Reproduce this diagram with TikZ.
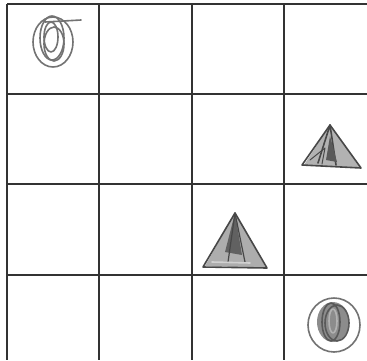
\documentclass[tikz,border=0pt]{standalone}
\usepackage{tikz}
\usetikzlibrary{calc}

\begin{document}
\begin{tikzpicture}[
    x=1pt, y=-1pt,
    gridline/.style={draw=black!80, line width=1.2pt},
    scribble/.style={draw=black!55, line width=1.6pt, line join=round, line cap=round},
    darkline/.style={scribble, draw=black!72}
]
\useasboundingbox (0,0) rectangle (367,360);
\fill[white] (0,0) rectangle (367,360);

% grid
\foreach \gx in {7, 99, 192, 284}
    \draw[gridline] (\gx, 4) -- (\gx, 360);
\foreach \gy in {4, 94, 184, 275}
    \draw[gridline] (7, \gy) -- (367, \gy);

% circle, top left
\coordinate (ringA) at (53, 42);
\draw[scribble] (ringA) ellipse [x radius=20, y radius=25];
\draw[scribble] ($(ringA)+(-1,-4)$) ellipse [x radius=12, y radius=22];
\draw[scribble] ($(ringA)+(-2,-5)$) ellipse [x radius=7, y radius=15];
\draw[scribble] ($(ringA)+(1,2)$) ellipse [x radius=10, y radius=17];
\draw[scribble] (45, 22) -- (81, 20);

% triangle, second row
\coordinate (triA) at (330, 125);
\fill[black!30] (triA) -- (304, 165) -- (360, 168) -- cycle;
\draw[darkline] (triA) -- (302, 165) -- (361, 168) -- cycle;
\draw[darkline] (triA) -- (318, 163) (triA) -- (336, 165);
\fill[black!65] (330, 136) -- (326, 160) -- (337, 162) -- cycle;
\draw[darkline, line width=1pt] (310, 160) -- (325, 148) -- (322, 164);

% triangle, third row
\coordinate (triB) at (235, 213);
\fill[black!32] (triB) -- (205, 266) -- (266, 268) -- cycle;
\draw[darkline] (triB) -- (203, 267) -- (267, 268) -- cycle;
\fill[black!62] (triB) -- (225, 252) -- (242, 255) -- cycle;
\draw[darkline, line width=1.2pt] (triB) -- (228, 262) (triB) -- (245, 262);
\draw[scribble, draw=black!18] (212, 262) -- (250, 263);

% circle, bottom right
\coordinate (ringB) at (334, 325);
\draw[scribble] (ringB) ellipse [x radius=26, y radius=27];
\fill[black!45] ($(ringB)+(-1,-3)$) ellipse [x radius=16, y radius=20];
\draw[scribble, draw=black!65] ($(ringB)+(-3,-3)$) ellipse [x radius=9, y radius=19];
\draw[scribble, draw=black!65] ($(ringB)+(3,-2)$) ellipse [x radius=12, y radius=18];
\draw[scribble, draw=black!30] ($(ringB)+(-1,-4)$) ellipse [x radius=4, y radius=12];
\end{tikzpicture}
\end{document}
